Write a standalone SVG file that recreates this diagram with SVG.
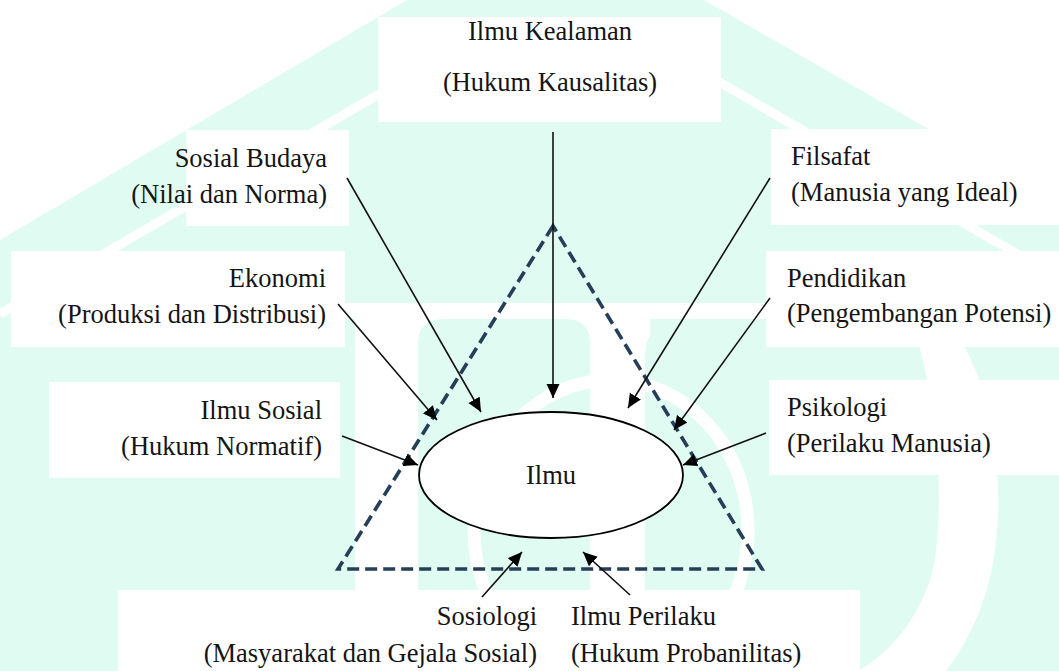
<svg xmlns="http://www.w3.org/2000/svg" width="1059" height="671" viewBox="0 0 1059 671">
<style>
.wm{fill:#e0fcf2}
.wh{fill:#ffffff}
.box{fill:#ffffff}
.t{font-family:"Liberation Serif","DejaVu Serif",serif;font-size:26.5px;fill:#151515}
.c{stroke:#111;stroke-width:1.6;fill:none;marker-end:url(#ah)}
.tri{fill:none;stroke:#253f58;stroke-width:3.6;stroke-dasharray:12 6}
</style>
<defs>
<marker id="ah" markerUnits="userSpaceOnUse" markerWidth="15" markerHeight="14" refX="14" refY="6.5" orient="auto">
<path d="M0,0 L14,6.5 L0,13 z" fill="#000"/>
</marker>
</defs>
<g id="watermark">
<rect class="wm" x="0" y="0" width="1059" height="671"/>
<polygon class="wh" points="0,0 407,0 0,240"/>
<polygon class="wh" points="704,0 1059,0 1059,204"/>
<line x1="0" y1="314" x2="400" y2="82" stroke="#fff" stroke-width="9"/>
<line x1="700" y1="71" x2="1059" y2="278" stroke="#fff" stroke-width="9"/>
<rect class="wh" x="340" y="303" width="430" height="16"/>
<rect class="wh" x="355" y="303" width="295" height="368"/>
<path class="wm" d="M418,671 L418,344 Q418,319 443,319 L565,319 Q590,319 590,344 L590,671 Z"/>
<path class="wm" d="M645,671 L645,355 Q645,325 675,325 L770,325 L770,671 Z"/>
<ellipse cx="611" cy="530" rx="137" ry="150" fill="none" stroke="#fff" stroke-width="13"/>
<path class="wh" d="M915,330 C935,400 945,480 935,560 C925,610 895,650 858,671 L946,671 C985,620 1000,560 998,490 C996,420 980,370 955,330 Z"/>
</g>
<g id="n-kealaman"><rect class="box" x="378" y="17" width="343" height="105"/>
<text class="t" x="550" y="40" text-anchor="middle">Ilmu Kealaman</text>
<text class="t" x="550" y="91" text-anchor="middle">(Hukum Kausalitas)</text></g>
<g id="n-sosbud"><rect class="box" x="186" y="130" width="163" height="96"/>
<text class="t" x="327" y="167" text-anchor="end">Sosial Budaya</text>
<text class="t" x="327" y="203" text-anchor="end">(Nilai dan Norma)</text></g>
<g id="n-ekonomi"><rect class="box" x="11" y="251" width="334" height="96"/>
<text class="t" x="326" y="287" text-anchor="end">Ekonomi</text>
<text class="t" x="326" y="323" text-anchor="end">(Produksi dan Distribusi)</text></g>
<g id="n-ilmusosial"><rect class="box" x="49" y="382" width="291" height="96"/>
<text class="t" x="322" y="419" text-anchor="end">Ilmu Sosial</text>
<text class="t" x="322" y="455" text-anchor="end">(Hukum Normatif)</text></g>
<g id="n-filsafat"><rect class="box" x="771" y="129" width="288" height="96"/>
<text class="t" x="791" y="165">Filsafat</text>
<text class="t" x="791" y="201">(Manusia yang Ideal)</text></g>
<g id="n-pendidikan"><rect class="box" x="766" y="251" width="293" height="96"/>
<text class="t" x="787" y="287">Pendidikan</text>
<text class="t" x="787" y="322">(Pengembangan Potensi)</text></g>
<g id="n-psikologi"><rect class="box" x="769" y="380" width="290" height="95"/>
<text class="t" x="787" y="416">Psikologi</text>
<text class="t" x="787" y="452">(Perilaku Manusia)</text></g>
<g id="n-bottom"><rect class="box" x="118" y="590" width="742" height="81"/>
<text class="t" x="537" y="625" text-anchor="end">Sosiologi</text>
<text class="t" x="537" y="662" text-anchor="end">(Masyarakat dan Gejala Sosial)</text>
<text class="t" x="571" y="625">Ilmu Perilaku</text>
<text class="t" x="571" y="662">(Hukum Probanilitas)</text></g>
<g id="triangle"><polygon class="tri" points="553,226 338,569 762,569"/></g>
<g id="connectors">
<line class="c" x1="553" y1="132" x2="553" y2="398" stroke="#333"/>
<line class="c" x1="347" y1="178" x2="481" y2="412"/>
<line class="c" x1="338" y1="304" x2="437" y2="420"/>
<line class="c" x1="342" y1="436" x2="418" y2="465"/>
<line class="c" x1="770" y1="178" x2="628" y2="408"/>
<line class="c" x1="770" y1="298" x2="674" y2="430"/>
<line class="c" x1="766" y1="433" x2="683" y2="465"/>
<line class="c" x1="482" y1="597" x2="522" y2="552"/>
<line class="c" x1="630" y1="595" x2="583" y2="552"/>
</g>
<g id="n-ilmu"><ellipse cx="551" cy="475" rx="132" ry="63" fill="#fff" stroke="#000" stroke-width="1.8"/>
<text class="t" x="551" y="484" text-anchor="middle">Ilmu</text></g>
</svg>
